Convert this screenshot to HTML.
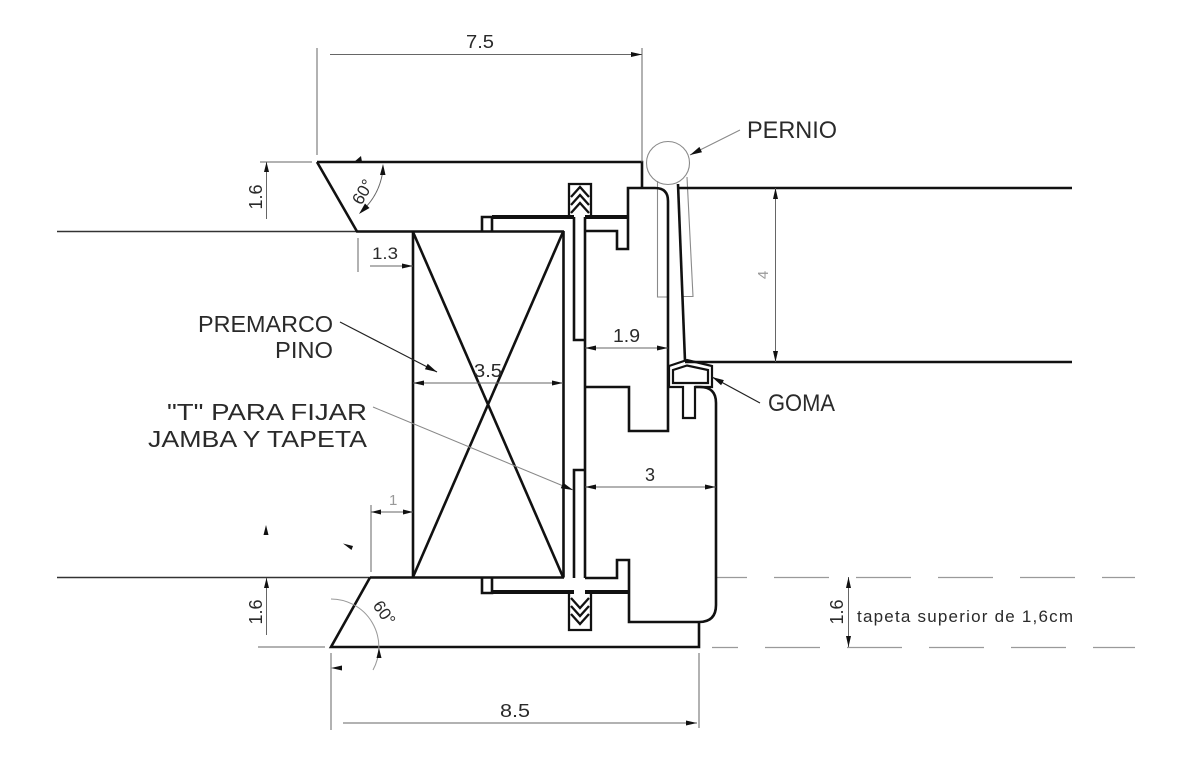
<!DOCTYPE html>
<html><head><meta charset="utf-8"><style>
html,body{margin:0;padding:0;background:#fff;}
svg{display:block;}
text{font-family:"Liberation Sans",sans-serif;}
</style></head><body>
<svg width="1190" height="765" viewBox="0 0 1190 765" xmlns="http://www.w3.org/2000/svg">
<rect width="1190" height="765" fill="#fff"/>

<!-- wall lines -->
<g stroke="#333" stroke-width="1.4" fill="none">
<path d="M57,231.5 H357"/>
<path d="M57,577.5 H370"/>
</g>

<!-- dashed tapeta lines -->
<g stroke="#9a9a9a" stroke-width="1.2" fill="none">
<path d="M716,577.5 H1135" stroke-dasharray="55 27" stroke-dashoffset="24"/>
<path d="M712,647.5 H1135" stroke-dasharray="55 27" stroke-dashoffset="29"/>
</g>

<!-- thin gray: pernio circle & hinge plates -->
<g stroke="#8a8a8a" stroke-width="1.1" fill="none">
<circle cx="668" cy="163" r="21.5"/>
<path d="M657.5,181 V297 H667"/>
<path d="M687,177 L693,296.5 H683"/>
</g>

<!-- main thick outlines -->
<g stroke="#111" stroke-width="2.6" fill="none" stroke-linejoin="miter">
<!-- top trim -->
<path d="M317,162 H642 V188"/>
<path d="M317,162 L357,231.5 H564"/>
<!-- premarco box -->
<path d="M413,232 V577.5"/>
<path d="M563.5,231 V577.5"/>
<path d="M370,577.5 H564"/>
<path d="M413,232 L563,577"/>
<path d="M563,232 L413,577"/>
<!-- small rects -->
<path d="M482,231 V217 H492 V231"/>
<path d="M482,578 V593 H492 V578"/>
<!-- T fin top / bottom -->
<path d="M574,217 V340 H585"/>
<path d="M574,578 V470 H585"/>
<path d="M585,217 V578"/>
<!-- jamb upper profile -->
<path d="M585,231 H617 V249 H628 V188 H655 Q668,188 668,201 V431 H629 V387 H585"/>
<!-- jamb lower profile -->
<path d="M585,578 H617 V560 H629 V622 H699 Q716,622 716,605 V403 Q716,387 700,387 H695"/>
<!-- bottom trim -->
<path d="M370,577.5 L331,647 H699 V622"/>
<!-- right side door lines -->
<path d="M678,188 H1072"/>
<path d="M685,362 H1072"/>
<path d="M678,184 L685,361"/>
</g>

<!-- jamb top/bottom heavy lines -->
<g stroke="#111" stroke-width="4" fill="none">
<path d="M492,217 H574"/>
<path d="M585,217 H628"/>
<path d="M492,592 H574"/>
<path d="M585,592 H629"/>
</g>

<!-- seals -->
<g stroke="#111" stroke-width="2.3" fill="none">
<path d="M574,217 H569 V184 H591 V217 H585"/>
<path d="M571,197 L580,187 L589,197"/>
<path d="M571,205 L580,195 L589,205"/>
<path d="M571,213 L580,203 L589,213"/>
<path d="M574,592 H569 V630 H591 V592 H585"/>
<path d="M571,598 L580,608 L589,598"/>
<path d="M571,606 L580,616 L589,606"/>
<path d="M571,614 L580,624 L589,614"/>
</g>

<!-- goma -->
<g stroke="#111" stroke-width="2.2" fill="none">
<path d="M669,366 L687,360 L712,366 V387 H695 V418 H683 V387 H669 Z"/>
<path d="M673,370 L687,365.5 L708,370 V383 H673 Z"/>
</g>

<!-- dimension lines -->
<g stroke="#666" stroke-width="1" fill="none">
<path d="M317,48 V155"/>
<path d="M642,48 V162"/>
<path d="M330,54.5 H642"/>
<path d="M260,162 H312"/>
<path d="M266.5,162 V219"/>
<path d="M358,238 V272"/>
<path d="M370,266 H413"/>
<path d="M371,505 V572"/>
<path d="M371,512 H413"/>
<path d="M585,348 H668"/>
<path d="M585,487 H716"/>
<path d="M413,383 H563"/>
<path d="M331,653 V730"/>
<path d="M699,653 V728"/>
<path d="M343,723 H697"/>
<path d="M775.5,188 V362"/>
<path d="M848.5,577 V647"/>
<path d="M258,647 H325"/>
<path d="M266.5,578 V635"/>
<path d="M382.5,173 A66,66 0 0 1 363,210"/>
</g>
<g stroke="#999" stroke-width="1" fill="none">
<path d="M331,599 A48,48 0 0 1 373,670"/>
</g>

<!-- leaders -->
<g stroke="#222" stroke-width="1.2" fill="none">
<path d="M340,322 L437,372"/>
<path d="M760,403 L712,377"/>
</g>
<g stroke="#888" stroke-width="1" fill="none">
<path d="M740,130 L690,155"/>
<path d="M373,407 L573,490"/>
</g>

<!-- arrowheads -->
<g fill="#111" stroke="none">
<polygon points="642,54.5 631,52 631,57"/>
<polygon points="266.5,162 264,172 269,172"/>
<polygon points="413,266 402,263.5 402,268.5"/>
<polygon points="371,512 381,509.5 381,514.5"/>
<polygon points="413,512 403,509.5 403,514.5"/>
<polygon points="585,348 596,345.5 596,350.5"/>
<polygon points="668,348 657,345.5 657,350.5"/>
<polygon points="585,487 596,484.5 596,489.5"/>
<polygon points="716,487 705,484.5 705,489.5"/>
<polygon points="413,383 424,380.5 424,385.5"/>
<polygon points="563,383 552,380.5 552,385.5"/>
<polygon points="697,723 686,720.5 686,725.5"/>
<polygon points="331,668 342,665.5 342,670.5"/>
<polygon points="775.5,188 773,199 778,199"/>
<polygon points="775.5,362 773,351 778,351"/>
<polygon points="848.5,577 846,588 851,588"/>
<polygon points="848.5,647 846,636 851,636"/>
<polygon points="266.5,578 264,588 269,588"/>
<polygon points="266,525 263.5,535 268.5,535"/>
<polygon points="343,543.5 353,546 351.5,550"/>
<polygon points="354,162 361,156 362,162"/>
<polygon points="383,164 380,175 385.5,175"/>
<polygon points="359,214 365,203.5 369.5,208"/>
<polygon points="379,648 376.5,658 381.5,658"/>
<polygon points="690,155 702,152.3 699.4,146.9"/>
<polygon points="712,377 723.9,380.1 721.1,385.3"/>
<polygon points="437,372 424.9,369.2 427.7,363.8"/>
<polygon points="573,490 560.8,488.2 563.1,482.6"/>
</g>

<!-- labels -->
<g fill="#2a2a2a">
<text x="198" y="332" font-size="23" textLength="135" lengthAdjust="spacingAndGlyphs">PREMARCO</text>
<text x="275" y="358" font-size="23" textLength="58" lengthAdjust="spacingAndGlyphs">PINO</text>
<text x="167" y="420" font-size="23" textLength="200" lengthAdjust="spacingAndGlyphs">"T" PARA FIJAR</text>
<text x="148" y="447" font-size="23" textLength="219" lengthAdjust="spacingAndGlyphs">JAMBA Y TAPETA</text>
<text x="747" y="138" font-size="24" textLength="90" lengthAdjust="spacingAndGlyphs">PERNIO</text>
<text x="768" y="411" font-size="24" textLength="67" lengthAdjust="spacingAndGlyphs">GOMA</text>
<text x="857" y="622" font-size="17" textLength="216" lengthAdjust="spacing">tapeta superior de 1,6cm</text>

<text x="466" y="48" font-size="18" textLength="28" lengthAdjust="spacingAndGlyphs">7.5</text>
<text x="372" y="259" font-size="17" textLength="26" lengthAdjust="spacingAndGlyphs">1.3</text>
<text x="613" y="342" font-size="18" textLength="27" lengthAdjust="spacingAndGlyphs">1.9</text>
<text x="474" y="377" font-size="18" textLength="28" lengthAdjust="spacingAndGlyphs">3.5</text>
<text x="645" y="481" font-size="18">3</text>
<text x="500" y="717" font-size="18" textLength="30" lengthAdjust="spacingAndGlyphs">8.5</text>
<text transform="translate(262,197) rotate(-90)" text-anchor="middle" font-size="18">1.6</text>
<text transform="translate(262,612) rotate(-90)" text-anchor="middle" font-size="18">1.6</text>
<text transform="translate(843,612) rotate(-90)" text-anchor="middle" font-size="18">1.6</text>
<text transform="translate(363,192) rotate(-60)" text-anchor="middle" dominant-baseline="central" font-size="17">60°</text>
<text transform="translate(384,613) rotate(55)" text-anchor="middle" dominant-baseline="central" font-size="17">60°</text>
</g>
<g fill="#999">
<text x="389" y="505" font-size="15">1</text>
<text transform="translate(768,275) rotate(-90)" text-anchor="middle" font-size="15">4</text>
</g>
</svg>
</body></html>
